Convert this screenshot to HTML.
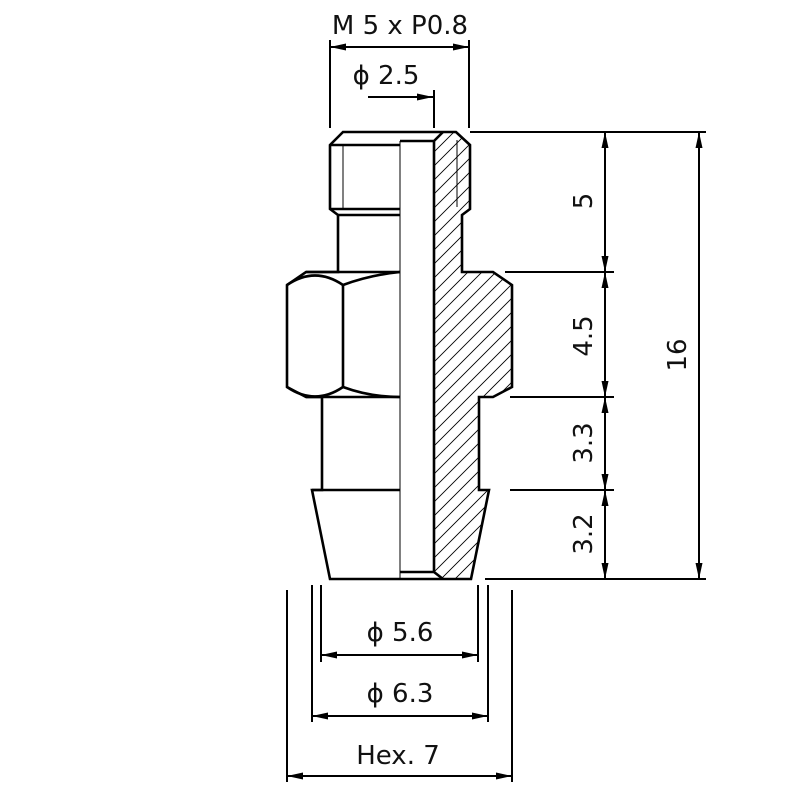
<!DOCTYPE html>
<html><head><meta charset="utf-8"><style>
html,body{margin:0;padding:0;background:#fff;}
svg{display:block}
text{font-family:"DejaVu Sans","Liberation Sans",sans-serif;fill:#111;}
</style></head><body>
<svg width="796" height="796" viewBox="0 0 796 796" xmlns="http://www.w3.org/2000/svg">
<defs>
<clipPath id="hc"><path d="M434,141 L443,132 L456,132 L470,145 L470,209 L462,215 L462,272 L493,272 L512,285 L512,387 L493,397 L479,397 L479,490 L489,490 L471,579 L443,579 L434,572 Z"/></clipPath>
<marker id="a" viewBox="0 0 16 8" refX="16" refY="4" markerWidth="16" markerHeight="8" markerUnits="userSpaceOnUse" orient="auto-start-reverse"><path d="M0,0.5 L16,4 L0,7.5 Z" fill="#000"/></marker>
</defs>
<g clip-path="url(#hc)" stroke="#000" stroke-width="0.9">
<path d="M434,600 L914,120 M420,600 L900,120 M406,600 L886,120 M392,600 L872,120 M378,600 L858,120 M364,600 L844,120 M350,600 L830,120 M336,600 L816,120 M322,600 L802,120 M308,600 L788,120 M294,600 L774,120 M280,600 L760,120 M266,600 L746,120 M252,600 L732,120 M238,600 L718,120 M224,600 L704,120 M210,600 L690,120 M196,600 L676,120 M182,600 L662,120 M168,600 L648,120 M154,600 L634,120 M140,600 L620,120 M126,600 L606,120 M112,600 L592,120 M98,600 L578,120 M84,600 L564,120 M70,600 L550,120 M56,600 L536,120 M42,600 L522,120 M28,600 L508,120 M14,600 L494,120 M0,600 L480,120 M-14,600 L466,120"/>
</g>
<g fill="none" stroke="#000" stroke-width="2.6" stroke-linejoin="miter">
<path d="M400,132 L443,132 M443,132 L456,132 L470,145 L470,209 L462,215 L462,272 L493,272 L512,285 L512,387 L493,397 L479,397 L479,490 L489,490 L471,579 L330,579 L312,490 L322,490 L322,397 L306,397 L287,387 L287,285 L306,272 L338,272 L338,215 L330,209 L330,145 L343,132 L400,132"/>
<path d="M400,141 L434,141 L443,132 M434,141 L434,572 L443,579 M400,572 L434,572"/>
<path d="M330,145 L400,145 M330,209 L400,209 M337,215 L400,215 M306,272 L400,272 M306,397 L400,397 M312,490 L400,490"/>
<path d="M343,285 L343,387"/>
<path d="M287,285 Q315,266 343,285 Q370,275 400,272"/>
<path d="M287,387 Q315,406 343,387 Q370,397 400,397"/>
</g>
<g fill="none" stroke="#000" stroke-width="1">
<path d="M400,141 L400,579 M343,145 L343,209 M457,140 L457,207"/>
</g>
<g fill="none" stroke="#000" stroke-width="2">
<path d="M330,40 L330,128 M469,40 L469,128 M434,90 L434,128"/>
<path d="M330,47 L469,47" marker-start="url(#a)" marker-end="url(#a)"/>
<path d="M368,97 L433,97" marker-end="url(#a)"/>
<path d="M470,132 L706,132 M505,272 L614,272 M510,397 L614,397 M510,490 L614,490 M485,579 L706,579"/>
<path d="M605,132 L605,272" marker-start="url(#a)" marker-end="url(#a)"/>
<path d="M605,272 L605,397" marker-start="url(#a)" marker-end="url(#a)"/>
<path d="M605,397 L605,490" marker-start="url(#a)" marker-end="url(#a)"/>
<path d="M605,490 L605,579" marker-start="url(#a)" marker-end="url(#a)"/>
<path d="M699,132 L699,579" marker-start="url(#a)" marker-end="url(#a)"/>
<path d="M287,590 L287,782 M512,590 L512,782 M312,585 L312,722 M488,585 L488,722 M321,585 L321,662 M478,585 L478,662"/>
<path d="M321,655 L478,655" marker-start="url(#a)" marker-end="url(#a)"/>
<path d="M312,716 L488,716" marker-start="url(#a)" marker-end="url(#a)"/>
<path d="M287,776 L512,776" marker-start="url(#a)" marker-end="url(#a)"/>
</g>
<g font-size="26" text-anchor="middle">
<text x="400" y="34">M 5 x P0.8</text>
<text x="386" y="84">ϕ 2.5</text>
<text x="400" y="641">ϕ 5.6</text>
<text x="400" y="702">ϕ 6.3</text>
<text x="398" y="764">Hex. 7</text>
<text transform="translate(592,201) rotate(-90)">5</text>
<text transform="translate(592,336) rotate(-90)">4.5</text>
<text transform="translate(592,443) rotate(-90)">3.3</text>
<text transform="translate(592,534) rotate(-90)">3.2</text>
<text transform="translate(686,355) rotate(-90)">16</text>
</g>
</svg>
</body></html>
